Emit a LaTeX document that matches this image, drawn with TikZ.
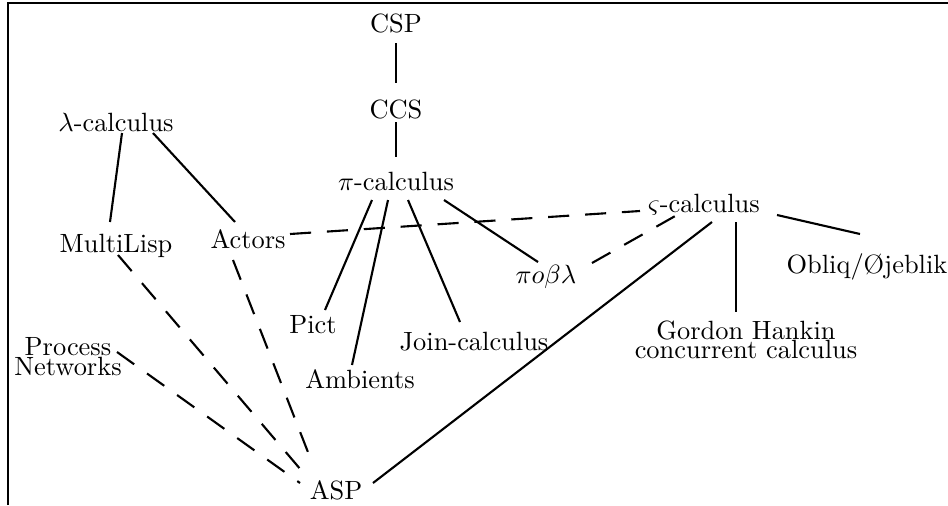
\documentclass[tikz,border=0pt]{standalone}
\begin{document}
\begin{tikzpicture}[x=0.3788pt,y=-0.3788pt,
  lbl/.style={inner sep=0pt,outer sep=0pt,anchor=base,font=\fontsize{10pt}{12pt}\selectfont},
  lbltop/.style={inner sep=0pt,outer sep=0pt,anchor=north,align=center,font=\fontsize{10pt}{12pt}\selectfont},
  conn/.style={line width=0.8pt},
  dconn/.style={line width=0.8pt,dash pattern=on 8pt off 6pt}]
\useasboundingbox (0,0) rectangle (948,505);
\draw[line width=1pt] (8,505) -- (8,3) -- (948,3);

\node[lbl] (csp)  at (396,32)  {CSP};
\node[lbl] (ccs)  at (396,118) {CCS};
\node[lbl] (pi)   at (396,190) {$\pi$-calculus};
\node[lbl] (lam)  at (116,131) {$\lambda$-calculus};
\node[lbl] (ml)   at (116,252) {MultiLisp};
\node[lbl] (act)  at (248,248) {Actors};
\node[lbl] (vs)   at (704,212) {$\varsigma$-calculus};
\node[lbl] (obl)  at (867,273) {Obliq/\O jeblik};
\node[lbl] (pict) at (313,333) {Pict};
\node[lbl] (amb)  at (360,388) {Ambients};
\node[lbl] (join) at (474,350) {Join-calculus};
\node[lbl] (pobl) at (546,283) {$\pi o\beta\lambda$};
\node[lbltop] (gh) at (746,320.7) {Gordon Hankin\\[-4.6pt]concurrent calculus};
\node[lbltop] (proc) at (68,337) {Process\\[-4.3pt]Networks};
\node[lbl] (asp)  at (336,499) {ASP};

\draw[conn] ([shift={(0,11)}]csp.base) -- ([shift={(0,-35)}]ccs.base);
\draw[conn] ([shift={(0,4)}]ccs.base) -- ([shift={(0,-33)}]pi.base);
\draw[conn] ([shift={(6,2)}]lam.base) -- ([shift={(-6,-30)}]ml.base);
\draw[conn] ([shift={(37,2)}]lam.base) -- ([shift={(-13,-26)}]act.base);
\draw[dconn] ([shift={(42,-14)}]act.base) -- ([shift={(-64,-1)}]vs.base);
\draw[conn] ([shift={(-24,10)}]pi.base) -- ([shift={(12,-23)}]pict.base);
\draw[conn] ([shift={(-8,10)}]pi.base) -- ([shift={(-8,-23)}]amb.base);
\draw[conn] ([shift={(12,10)}]pi.base) -- ([shift={(-14,-28)}]join.base);
\draw[conn] ([shift={(48,10)}]pi.base) -- ([shift={(-8,-21)}]pobl.base);
\draw[dconn] ([shift={(46,-20)}]pobl.base) -- ([shift={(-27,3)}]vs.base);
\draw[conn] ([shift={(73,3)}]vs.base) -- ([shift={(-7,-39)}]obl.base);
\draw[conn] ([shift={(32,10)}]vs.base) -- ([shift={(-10,-8.7)}]gh.north);
\draw[conn] ([shift={(8,10)}]vs.base) -- ([shift={(37,-16)}]asp.base);
\draw[dconn] ([shift={(2,3)}]ml.base) -- ([shift={(-29,-22)}]asp.base);
\draw[dconn] ([shift={(-15,12)}]act.base) -- ([shift={(-23,-34)}]asp.base);
\draw[dconn] ([shift={(49,15)}]proc.north) -- ([shift={(-36,-16)}]asp.base);
\end{tikzpicture}
\end{document}
